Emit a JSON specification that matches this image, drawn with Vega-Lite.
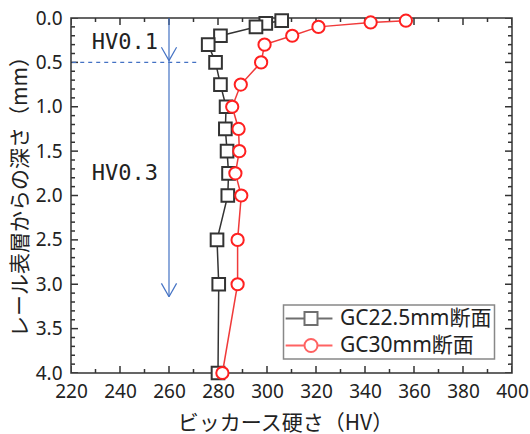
{
  "$schema": "https://vega.github.io/schema/vega-lite/v6.json",
  "width": 441,
  "height": 355,
  "autosize": "none",
  "padding": {"left": 71, "top": 18, "right": 18, "bottom": 61},
  "background": "white",
  "config": {
    "view": {"stroke": "#333", "strokeWidth": 1.5},
    "axis": {
      "grid": false,
      "domain": false,
      "labelFlush": false,
      "labelOverlap": false,
      "labelFont": "Noto Sans",
      "labelFontSize": 19,
      "labelColor": "#222",
      "titleFont": "Noto Sans CJK JP",
      "titleFontSize": 21,
      "titleColor": "#222",
      "titleFontWeight": "normal"
    },
    "legend": {
      "padding": 3,
      "fillColor": "white",
      "strokeColor": "#888",
      "strokeWidth": 1.5,
      "labelFont": "Noto Sans, Noto Sans CJK JP",
      "labelFontSize": 21,
      "labelColor": "#222",
      "labelOffset": 18.5,
      "labelLimit": 300,
      "symbolSize": 169,
      "symbolOffset": 14,
      "symbolStrokeWidth": 2,
      "symbolFillColor": "white",
      "rowPadding": 5
    }
  },
  "datasets": {
    "pts": [
      {"series": "GC22.5mm断面", "depth": 0.03, "hv": 306},
      {"series": "GC22.5mm断面", "depth": 0.06, "hv": 299.5},
      {"series": "GC22.5mm断面", "depth": 0.1, "hv": 295.5},
      {"series": "GC22.5mm断面", "depth": 0.2, "hv": 281},
      {"series": "GC22.5mm断面", "depth": 0.3, "hv": 276},
      {"series": "GC22.5mm断面", "depth": 0.5, "hv": 279},
      {"series": "GC22.5mm断面", "depth": 0.75, "hv": 281},
      {"series": "GC22.5mm断面", "depth": 1.0, "hv": 283.3},
      {"series": "GC22.5mm断面", "depth": 1.25, "hv": 283},
      {"series": "GC22.5mm断面", "depth": 1.5, "hv": 283.7},
      {"series": "GC22.5mm断面", "depth": 1.75, "hv": 284.3},
      {"series": "GC22.5mm断面", "depth": 2.0, "hv": 284},
      {"series": "GC22.5mm断面", "depth": 2.5, "hv": 279.6},
      {"series": "GC22.5mm断面", "depth": 3.0, "hv": 280.3},
      {"series": "GC22.5mm断面", "depth": 4.0, "hv": 280},
      {"series": "GC30mm断面", "depth": 0.03, "hv": 356.7},
      {"series": "GC30mm断面", "depth": 0.05, "hv": 342.3},
      {"series": "GC30mm断面", "depth": 0.1, "hv": 321},
      {"series": "GC30mm断面", "depth": 0.2, "hv": 310.3},
      {"series": "GC30mm断面", "depth": 0.3, "hv": 299},
      {"series": "GC30mm断面", "depth": 0.5, "hv": 297.6},
      {"series": "GC30mm断面", "depth": 0.75, "hv": 289.3},
      {"series": "GC30mm断面", "depth": 1.0, "hv": 285.8},
      {"series": "GC30mm断面", "depth": 1.25, "hv": 288.4},
      {"series": "GC30mm断面", "depth": 1.5, "hv": 288.7},
      {"series": "GC30mm断面", "depth": 1.75, "hv": 287.1},
      {"series": "GC30mm断面", "depth": 2.0, "hv": 289.5},
      {"series": "GC30mm断面", "depth": 2.5, "hv": 288},
      {"series": "GC30mm断面", "depth": 3.0, "hv": 288},
      {"series": "GC30mm断面", "depth": 4.0, "hv": 281.8}
    ],
    "xticks": [
      {"v": 220, "k": "M"}, {"v": 230, "k": "m"}, {"v": 240, "k": "M"}, {"v": 250, "k": "m"},
      {"v": 260, "k": "M"}, {"v": 270, "k": "m"}, {"v": 280, "k": "M"}, {"v": 290, "k": "m"},
      {"v": 300, "k": "M"}, {"v": 310, "k": "m"}, {"v": 320, "k": "M"}, {"v": 330, "k": "m"},
      {"v": 340, "k": "M"}, {"v": 350, "k": "m"}, {"v": 360, "k": "M"}, {"v": 370, "k": "m"},
      {"v": 380, "k": "M"}, {"v": 390, "k": "m"}, {"v": 400, "k": "M"}
    ],
    "yticks": [
      {"v": 0, "k": "M"}, {"v": 0.1, "k": "m"}, {"v": 0.2, "k": "m"}, {"v": 0.3, "k": "m"}, {"v": 0.4, "k": "m"},
      {"v": 0.5, "k": "M"}, {"v": 0.6, "k": "m"}, {"v": 0.7, "k": "m"}, {"v": 0.8, "k": "m"}, {"v": 0.9, "k": "m"},
      {"v": 1.0, "k": "M"}, {"v": 1.1, "k": "m"}, {"v": 1.2, "k": "m"}, {"v": 1.3, "k": "m"}, {"v": 1.4, "k": "m"},
      {"v": 1.5, "k": "M"}, {"v": 1.6, "k": "m"}, {"v": 1.7, "k": "m"}, {"v": 1.8, "k": "m"}, {"v": 1.9, "k": "m"},
      {"v": 2.0, "k": "M"}, {"v": 2.1, "k": "m"}, {"v": 2.2, "k": "m"}, {"v": 2.3, "k": "m"}, {"v": 2.4, "k": "m"},
      {"v": 2.5, "k": "M"}, {"v": 2.6, "k": "m"}, {"v": 2.7, "k": "m"}, {"v": 2.8, "k": "m"}, {"v": 2.9, "k": "m"},
      {"v": 3.0, "k": "M"}, {"v": 3.1, "k": "m"}, {"v": 3.2, "k": "m"}, {"v": 3.3, "k": "m"}, {"v": 3.4, "k": "m"},
      {"v": 3.5, "k": "M"}, {"v": 3.6, "k": "m"}, {"v": 3.7, "k": "m"}, {"v": 3.8, "k": "m"}, {"v": 3.9, "k": "m"},
      {"v": 4.0, "k": "M"}
    ],
    "arrow": [
      {"x": 260, "y": 0, "x2": 260, "y2": 3.14},
      {"x": 256.9, "y": 0.33, "x2": 260, "y2": 0.48},
      {"x": 263.1, "y": 0.33, "x2": 260, "y2": 0.48},
      {"x": 256.9, "y": 2.99, "x2": 260, "y2": 3.14},
      {"x": 263.1, "y": 2.99, "x2": 260, "y2": 3.14}
    ],
    "dash": [{"x": 220.5, "x2": 272.5, "y": 0.5}],
    "labels": [
      {"x": 228.5, "y": 0.27, "text": "HV0.1"},
      {"x": 228.5, "y": 1.75, "text": "HV0.3"}
    ]
  },
  "resolve": {"scale": {"x": "independent", "y": "independent"}, "axis": {"x": "independent", "y": "independent"}},
  "layer": [
    {
      "data": {"name": "xticks"},
      "mark": {"type": "tick", "orient": "vertical", "clip": true, "color": "#333", "thickness": 1.5, "opacity": 1},
      "encoding": {
        "x": {"field": "v", "type": "quantitative", "scale": {"domain": [220, 400], "nice": false, "zero": false}, "axis": null},
        "y": {"datum": 4, "type": "quantitative", "scale": {"domain": [0, 4], "reverse": true, "nice": false, "zero": false}, "axis": null},
        "size": {"field": "k", "type": "nominal", "scale": {"domain": ["M", "m"], "range": [14, 8]}, "legend": null}
      }
    },
    {
      "data": {"name": "xticks"},
      "mark": {"type": "tick", "orient": "vertical", "clip": true, "color": "#333", "thickness": 1.5, "opacity": 1},
      "encoding": {
        "x": {"field": "v", "type": "quantitative", "scale": {"domain": [220, 400], "nice": false, "zero": false}, "axis": null},
        "y": {"datum": 0, "type": "quantitative", "scale": {"domain": [0, 4], "reverse": true, "nice": false, "zero": false}, "axis": null},
        "size": {"field": "k", "type": "nominal", "scale": {"domain": ["M", "m"], "range": [14, 8]}, "legend": null}
      }
    },
    {
      "data": {"name": "yticks"},
      "mark": {"type": "tick", "orient": "horizontal", "clip": true, "color": "#333", "thickness": 1.5, "opacity": 1},
      "encoding": {
        "x": {"datum": 220, "type": "quantitative", "scale": {"domain": [220, 400], "nice": false, "zero": false}, "axis": null},
        "y": {"field": "v", "type": "quantitative", "scale": {"domain": [0, 4], "reverse": true, "nice": false, "zero": false}, "axis": null},
        "size": {"field": "k", "type": "nominal", "scale": {"domain": ["M", "m"], "range": [14, 8]}, "legend": null}
      }
    },
    {
      "data": {"name": "yticks"},
      "mark": {"type": "tick", "orient": "horizontal", "clip": true, "color": "#333", "thickness": 1.5, "opacity": 1},
      "encoding": {
        "x": {"datum": 400, "type": "quantitative", "scale": {"domain": [220, 400], "nice": false, "zero": false}, "axis": null},
        "y": {"field": "v", "type": "quantitative", "scale": {"domain": [0, 4], "reverse": true, "nice": false, "zero": false}, "axis": null},
        "size": {"field": "k", "type": "nominal", "scale": {"domain": ["M", "m"], "range": [14, 8]}, "legend": null}
      }
    },
    {
      "data": {"name": "arrow"},
      "mark": {"type": "rule", "color": "#4472c4", "strokeWidth": 1.2},
      "encoding": {
        "x": {"field": "x", "type": "quantitative", "scale": {"domain": [220, 400], "nice": false, "zero": false}, "axis": null},
        "x2": {"field": "x2"},
        "y": {"field": "y", "type": "quantitative", "scale": {"domain": [0, 4], "reverse": true, "nice": false, "zero": false}, "axis": null},
        "y2": {"field": "y2"}
      }
    },
    {
      "data": {"name": "dash"},
      "mark": {"type": "rule", "color": "#4472c4", "strokeWidth": 1.2, "strokeDash": [4, 4]},
      "encoding": {
        "x": {"field": "x", "type": "quantitative", "scale": {"domain": [220, 400], "nice": false, "zero": false}, "axis": null},
        "x2": {"field": "x2"},
        "y": {"field": "y", "type": "quantitative", "scale": {"domain": [0, 4], "reverse": true, "nice": false, "zero": false}, "axis": null}
      }
    },
    {
      "data": {"name": "labels"},
      "mark": {"type": "text", "font": "DejaVu Sans Mono", "fontSize": 22, "align": "left", "baseline": "middle", "color": "#222"},
      "encoding": {
        "x": {"field": "x", "type": "quantitative", "scale": {"domain": [220, 400], "nice": false, "zero": false}, "axis": null},
        "y": {"field": "y", "type": "quantitative", "scale": {"domain": [0, 4], "reverse": true, "nice": false, "zero": false}, "axis": null},
        "text": {"field": "text"}
      }
    },
    {
      "data": {"name": "pts"},
      "transform": [{"filter": "datum.series === 'GC22.5mm断面'"}],
      "mark": {"type": "line", "color": "#333", "strokeWidth": 1.5},
      "encoding": {
        "x": {"field": "hv", "type": "quantitative", "scale": {"domain": [220, 400], "nice": false, "zero": false},
          "axis": {"orient": "bottom", "values": [220,240,260,280,300,320,340,360,380,400], "ticks": false, "labelPadding": 9, "title": "ビッカース硬さ（HV）", "titleX": 214, "titleY": 50, "titleBaseline": "middle"}},
        "y": {"field": "depth", "type": "quantitative", "scale": {"domain": [0, 4], "reverse": true, "nice": false, "zero": false},
          "axis": {"orient": "left", "values": [0,0.5,1,1.5,2,2.5,3,3.5,4], "format": ".1f", "ticks": false, "labelPadding": 9, "title": "レール表層からの深さ（mm）", "titleX": -51, "titleY": 173, "titleBaseline": "middle"}},
        "order": {"field": "depth", "type": "quantitative"}
      }
    },
    {
      "data": {"name": "pts"},
      "transform": [{"filter": "datum.series === 'GC22.5mm断面'"}],
      "mark": {"type": "point", "shape": "square", "size": 160, "filled": false, "fill": "white", "fillOpacity": 1, "stroke": "#333", "strokeWidth": 2, "opacity": 1},
      "encoding": {
        "x": {"field": "hv", "type": "quantitative", "scale": {"domain": [220, 400], "nice": false, "zero": false}, "axis": null},
        "y": {"field": "depth", "type": "quantitative", "scale": {"domain": [0, 4], "reverse": true, "nice": false, "zero": false}, "axis": null}
      }
    },
    {
      "data": {"name": "pts"},
      "transform": [{"filter": "datum.series === 'GC30mm断面'"}],
      "mark": {"type": "line", "color": "#f03a3a", "strokeWidth": 1.5},
      "encoding": {
        "x": {"field": "hv", "type": "quantitative", "scale": {"domain": [220, 400], "nice": false, "zero": false}, "axis": null},
        "y": {"field": "depth", "type": "quantitative", "scale": {"domain": [0, 4], "reverse": true, "nice": false, "zero": false}, "axis": null},
        "order": {"field": "depth", "type": "quantitative"}
      }
    },
    {
      "data": {"name": "pts"},
      "transform": [{"filter": "datum.series === 'GC30mm断面'"}],
      "mark": {"type": "point", "shape": "circle", "size": 150, "filled": false, "fill": "white", "fillOpacity": 1, "stroke": "#ff2020", "strokeWidth": 2, "opacity": 1},
      "encoding": {
        "x": {"field": "hv", "type": "quantitative", "scale": {"domain": [220, 400], "nice": false, "zero": false}, "axis": null},
        "y": {"field": "depth", "type": "quantitative", "scale": {"domain": [0, 4], "reverse": true, "nice": false, "zero": false}, "axis": null}
      }
    },
    {
      "data": {"name": "pts"},
      "transform": [{"filter": "false"}],
      "mark": {"type": "point", "filled": false, "fill": "white", "size": 169, "strokeWidth": 2},
      "encoding": {
        "shape": {"field": "series", "type": "nominal",
          "scale": {"domain": ["GC22.5mm断面", "GC30mm断面"], "range": ["M-3.9,0H-1M1,0H3.3M-1,-1H1V1H-1Z", "M-3.9,0H-1M1,0H3.3M-1,0A1,1,0,1,1,1,0A1,1,0,1,1,-1,0Z"]},
          "legend": {"title": null, "orient": "none", "legendX": 212.5, "legendY": 287}},
        "stroke": {"field": "series", "type": "nominal",
          "scale": {"domain": ["GC22.5mm断面", "GC30mm断面"], "range": ["#333", "#ff2020"]},
          "legend": {"title": null, "orient": "none", "legendX": 212.5, "legendY": 287}}
      }
    }
  ]
}
